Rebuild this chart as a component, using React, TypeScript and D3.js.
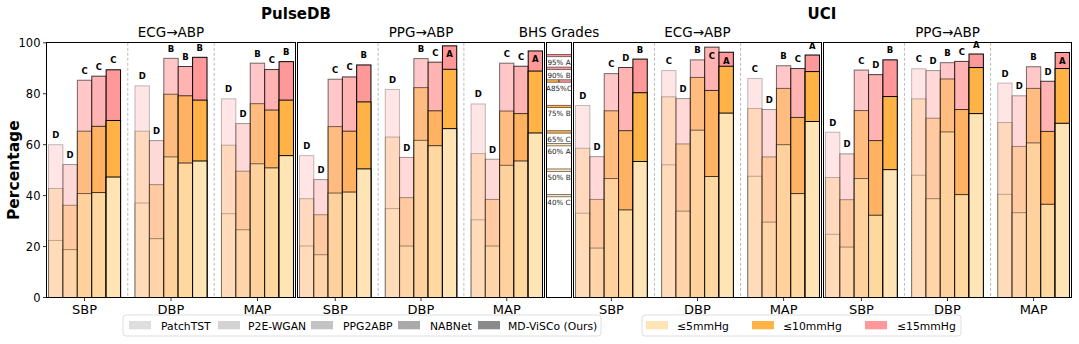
import * as d3 from 'd3'

const methods = ['PatchTST', 'P2E-WGAN', 'PPG2ABP', 'NABNet', 'MD-ViSCo (Ours)']
const targets = ['SBP', 'DBP', 'MAP']
const thresholdLabels = ['≤5mmHg', '≤10mmHg', '≤15mmHg']
const yTicks = [0, 20, 40, 60, 80, 100]

// rows: SBP, DBP, MAP / columns: methods
// PulseDB, ECG→ABP
const pulseEcgLe5 = [
  [22.4, 18.8, 40.8, 41.2, 47.3],
  [37.1, 23.1, 55.2, 52.8, 53.6],
  [32.9, 26.6, 52.5, 50.9, 55.7],
]
const pulseEcgLe10 = [
  [42.8, 36.2, 65.3, 67.2, 69.5],
  [65.3, 44.3, 79.8, 79.2, 77.5],
  [59.8, 49.6, 76.1, 73.6, 77.5],
]
const pulseEcgLe15 = [
  [60.0, 52.2, 85.3, 86.9, 89.4],
  [83.1, 61.6, 93.9, 90.7, 94.3],
  [78.0, 68.3, 92.0, 89.5, 92.6],
]
const pulseEcgGrades = [
  ['D', 'D', 'C', 'C', 'C'],
  ['D', 'D', 'B', 'B', 'B'],
  ['D', 'D', 'B', 'C', 'B'],
]

// PulseDB, PPG→ABP
const pulsePpgLe5 = [
  [20.2, 16.8, 41.0, 41.4, 50.5],
  [34.9, 20.2, 61.7, 59.6, 66.3],
  [30.5, 20.2, 51.9, 53.6, 64.6],
]
const pulsePpgLe10 = [
  [38.8, 32.5, 67.1, 65.3, 76.8],
  [63.0, 39.2, 82.4, 73.3, 89.6],
  [56.5, 38.5, 73.2, 72.2, 88.9],
]
const pulsePpgLe15 = [
  [55.7, 46.3, 85.7, 86.6, 91.3],
  [81.7, 55.0, 93.8, 92.4, 98.8],
  [76.0, 54.3, 92.0, 90.8, 96.8],
]
const pulsePpgGrades = [
  ['D', 'D', 'C', 'C', 'B'],
  ['D', 'D', 'B', 'C', 'A'],
  ['D', 'D', 'C', 'C', 'A'],
]

// UCI, ECG→ABP
const uciEcgLe5 = [
  [33.1, 19.4, 46.7, 34.4, 53.4],
  [52.1, 33.9, 65.7, 47.5, 72.4],
  [47.6, 29.6, 60.0, 40.8, 69.1],
]
const uciEcgLe10 = [
  [58.6, 38.5, 73.3, 65.5, 80.4],
  [78.8, 60.3, 86.4, 81.3, 90.8],
  [74.2, 55.2, 82.1, 70.7, 88.7],
]
const uciEcgLe15 = [
  [75.4, 55.3, 87.9, 90.3, 93.6],
  [89.1, 78.1, 93.3, 98.3, 96.3],
  [86.0, 73.8, 91.0, 89.9, 95.2],
]
const uciEcgGrades = [
  ['D', 'D', 'C', 'D', 'B'],
  ['C', 'D', 'B', 'C', 'A'],
  ['C', 'D', 'B', 'C', 'A'],
]

// UCI, PPG→ABP
const uciPpgLe5 = [
  [24.8, 19.8, 46.7, 32.3, 50.2],
  [48.0, 38.8, 65.0, 40.4, 72.2],
  [40.5, 33.3, 60.7, 36.6, 68.4],
]
const uciPpgLe10 = [
  [47.1, 38.4, 73.4, 61.6, 78.9],
  [78.0, 70.4, 85.8, 73.8, 90.3],
  [68.7, 59.3, 82.1, 65.2, 89.9],
]
const uciPpgLe15 = [
  [64.9, 56.4, 89.3, 87.5, 93.3],
  [89.8, 89.1, 92.2, 92.7, 95.6],
  [84.2, 79.2, 90.6, 84.9, 96.2],
]
const uciPpgGrades = [
  ['D', 'D', 'C', 'D', 'B'],
  ['C', 'D', 'B', 'C', 'A'],
  ['D', 'D', 'B', 'D', 'A'],
]

// BHS criteria (grade A, B, C)
const bhsGrades = ['A', 'B', 'C']
const bhsLe5 = [60, 50, 40]
const bhsLe10 = [85, 75, 65]
const bhsLe15 = [95, 90, 85]

const FONT = 'DejaVu Sans, sans-serif'
const levelColors = ['#FFE4B5', '#FFB347', '#FF9999'] // <=5, <=10, <=15
const methodAlpha = [0.25, 0.38, 0.55, 0.75, 1]
const methodGray = ['#dedede', '#d3d3d3', '#c3c3c3', '#aaaaaa', '#8a8a8a']

const yScale = d3.scaleLinear().domain([0, 100]).range([297.5, 42.8])
const BAR = 0.1666

function Frame({ box }) {
  const top = 42.5
  const bottom = 297.5
  return (
    <rect
      x={box[0]}
      y={top}
      width={box[1] - box[0]}
      height={bottom - top}
      fill="none"
      stroke="#000"
      strokeWidth={1}
      shapeRendering="crispEdges"
    />
  )
}

function Panel({ box, le5, le10, le15, grades, yAxis }) {
  const x = d3.scaleLinear().domain([-0.44, 2.44]).range(box)
  const half = (BAR * methods.length) / 2
  const top = yScale(100)
  const bottom = yScale(0)

  return (
    <g>
      {targets.map((t, ti) =>
        methods.map((m, mi) => {
          const x0 = x(ti - half + mi * BAR)
          const x1 = x(ti - half + (mi + 1) * BAR)
          const layers = [
            [le15, levelColors[2]],
            [le10, levelColors[1]],
            [le5, levelColors[0]],
          ]
          return (
            <g key={t + m}>
              {layers.map(([arr, c], li) => (
                <rect
                  key={li}
                  x={x0}
                  width={x1 - x0}
                  y={yScale(arr[ti][mi])}
                  height={bottom - yScale(arr[ti][mi])}
                  fill={c}
                  fillOpacity={methodAlpha[mi]}
                  stroke="#000"
                  strokeOpacity={methodAlpha[mi]}
                  strokeWidth={1}
                />
              ))}
            </g>
          )
        })
      )}
      {[0.5, 1.5].map((v) => (
        <line key={v} x1={x(v)} x2={x(v)} y1={top} y2={bottom} stroke="#aaa" strokeWidth={0.8} strokeDasharray="3,2" />
      ))}
      {/* grade letters */}
      {targets.map((t, ti) =>
        methods.map((m, mi) => {
          const v = le15[ti][mi]
          const inside = v >= 95.9
          const cx = x(ti - half + (mi + 0.5) * BAR)
          return (
            <text
              key={'g' + t + m}
              x={cx}
              y={inside ? yScale(v) + 11.5 : yScale(v) - 6.5}
              textAnchor="middle"
              fontSize={8.5}
              fontWeight="bold"
              fontFamily={FONT}
            >
              {grades[ti][mi]}
            </text>
          )
        })
      )}
      <Frame box={box} />
      {targets.map((t, ti) => (
        <g key={'xt' + t}>
          <line x1={x(ti)} x2={x(ti)} y1={bottom} y2={bottom + 3.5} stroke="#000" strokeWidth={0.8} />
          <text x={x(ti)} y={314.3} textAnchor="middle" fontSize={13} fontFamily={FONT}>
            {t}
          </text>
        </g>
      ))}
      {yAxis &&
        yTicks.map((v) => (
          <g key={'yt' + v}>
            <line x1={box[0] - 3.5} x2={box[0]} y1={yScale(v)} y2={yScale(v)} stroke="#000" strokeWidth={0.8} />
            <text x={box[0] - 6} y={yScale(v) + 4.2} textAnchor="end" fontSize={11.5} fontFamily={FONT}>
              {v}
            </text>
          </g>
        ))}
    </g>
  )
}

function BhsPanel({ box }) {
  // group the criteria by level
  const entries = []
  const lists = [bhsLe5, bhsLe10, bhsLe15]
  lists.forEach((arr, li) => arr.forEach((v, gi) => entries.push({ v, li, grade: bhsGrades[gi] })))
  const levels = Array.from(d3.group(entries, (e) => e.v), ([v, es]) => ({ v, es: es.sort((a, b) => a.li - b.li) }))
  const w = box[1] - box[0]
  const cx = (box[0] + box[1]) / 2
  return (
    <g>
      {levels.map(({ v, es }) => {
        const y = yScale(v)
        const label = es.length === 1 ? `${v}% ${es[0].grade}` : `${es[0].grade}${v}%${es[1].grade}`
        return (
          <g key={v}>
            {es.map((e, i) => (
              <rect
                key={i}
                x={box[0] + (w / es.length) * i}
                width={w / es.length}
                y={y - 1.2}
                height={2.4}
                fill={levelColors[e.li]}
                stroke="#000"
                strokeOpacity={0.7}
                strokeWidth={0.7}
              />
            ))}
            <text x={cx} y={y + 9.8} textAnchor="middle" fontSize={7.2} fontFamily={FONT} fill="#222">
              {label}
            </text>
          </g>
        )
      })}
      <Frame box={box} />
    </g>
  )
}

export default function App() {
  const legend1X = [129, 218, 311, 398, 478]
  const legend1T = [161, 248, 343, 430, 508]
  const legend2X = [646, 752, 865]
  const legend2T = [677, 783, 897]
  return (
    <>
      <style>{`body{margin:0}`}</style>
      <svg width={1079} height={344} style={{ display: 'block', background: '#fff' }}>
        <Panel box={[46.5, 295.5]} le5={pulseEcgLe5} le10={pulseEcgLe10} le15={pulseEcgLe15} grades={pulseEcgGrades} yAxis />
        <Panel box={[297.5, 544.5]} le5={pulsePpgLe5} le10={pulsePpgLe10} le15={pulsePpgLe15} grades={pulsePpgGrades} />
        <BhsPanel box={[546.5, 571.5]} />
        <Panel box={[573.5, 821.5]} le5={uciEcgLe5} le10={uciEcgLe10} le15={uciEcgLe15} grades={uciEcgGrades} />
        <Panel box={[823.5, 1071.5]} le5={uciPpgLe5} le10={uciPpgLe10} le15={uciPpgLe15} grades={uciPpgGrades} />

        {/* titles */}
        <text x={296} y={19.3} textAnchor="middle" fontSize={15} fontWeight="bold" fontFamily={FONT}>PulseDB</text>
        <text x={822} y={19.3} textAnchor="middle" fontSize={15} fontWeight="bold" fontFamily={FONT}>UCI</text>
        <text x={171} y={37.3} textAnchor="middle" fontSize={13.5} fontFamily={FONT}>ECG→ABP</text>
        <text x={421} y={37.3} textAnchor="middle" fontSize={13.5} fontFamily={FONT}>PPG→ABP</text>
        <text x={559} y={37.3} textAnchor="middle" fontSize={13.5} fontFamily={FONT}>BHS Grades</text>
        <text x={697.5} y={37.3} textAnchor="middle" fontSize={13.5} fontFamily={FONT}>ECG→ABP</text>
        <text x={947.5} y={37.3} textAnchor="middle" fontSize={13.5} fontFamily={FONT}>PPG→ABP</text>
        <text
          transform={`translate(18.5,${(yScale(0) + yScale(100)) / 2}) rotate(-90)`}
          textAnchor="middle"
          fontSize={15.5}
          fontWeight="bold"
          fontFamily={FONT}
        >
          Percentage
        </text>

        {/* legends */}
        <rect x={123} y={315} width={478} height={21} rx={3} fill="#fff" fillOpacity={0.8} stroke="#d6d6d6" strokeWidth={0.8} />
        {methods.map((m, i) => (
          <g key={m}>
            <rect x={legend1X[i]} y={321} width={22} height={8.3} fill={methodGray[i]} />
            <text x={legend1T[i]} y={329.8} fontSize={10.8} fontFamily={FONT}>{m}</text>
          </g>
        ))}
        <rect x={642} y={315} width={319} height={21} rx={3} fill="#fff" fillOpacity={0.8} stroke="#d6d6d6" strokeWidth={0.8} />
        {thresholdLabels.map((l, i) => (
          <g key={l}>
            <rect x={legend2X[i]} y={321} width={22} height={8.3} fill={levelColors[i]} />
            <text x={legend2T[i]} y={329.8} fontSize={10.8} fontFamily={FONT}>{l}</text>
          </g>
        ))}
      </svg>
    </>
  )
}
